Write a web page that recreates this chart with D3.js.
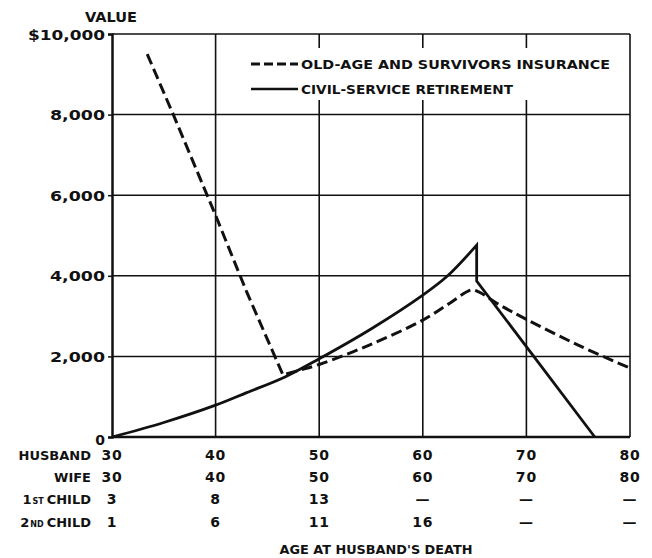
<!DOCTYPE html>
<html>
<head>
<meta charset="utf-8">
<script src="https://cdn.jsdelivr.net/npm/d3@7/dist/d3.min.js"></script>
<style>
  html, body { margin: 0; padding: 0; background: #fff; }
  svg text { font-family: "DejaVu Sans", "Liberation Sans", sans-serif; font-weight: bold; fill: #111; }
</style>
</head>
<body>
<svg id="chart" width="652" height="558"></svg>
<script>
// ---- data ----
const yTicks = [0, 2000, 4000, 6000, 8000, 10000];
const xTicks = [30, 40, 50, 60, 70, 80];

// Old-age and survivors insurance (dashed)
const oasiAge = [33.4, 36, 40, 43, 46.5, 48, 50, 55, 60, 62.6, 64.7, 65.4, 67.4, 70, 75, 80];
const oasiVal = [9500, 7950, 5500, 3600, 1540, 1650, 1800, 2300, 2900, 3320, 3650, 3600, 3280, 2920, 2280, 1710];
const oasiBreak = 4; // sharp kink index

// Civil-service retirement (solid)
const csrAge = [30, 35, 40, 43, 46.7, 50, 55, 60, 62.4, 65.2, 65.2, 76.6];
const csrVal = [0, 360, 790, 1100, 1490, 1940, 2680, 3520, 4000, 4760, 3870, 0];
const csrBreak = 9; // peak index, then vertical drop and straight descent

const rowLabels = ["HUSBAND", "WIFE", "1", "2"];
const rowSup = ["", "", "ST", "ND"];
const husbandAges = ["30", "40", "50", "60", "70", "80"];
const wifeAges = ["30", "40", "50", "60", "70", "80"];
const child1Ages = ["3", "8", "13", "—", "—", "—"];
const child2Ages = ["1", "6", "11", "16", "—", "—"];
const rows = [husbandAges, wifeAges, child1Ages, child2Ages];

const legendLabels = ["OLD-AGE AND SURVIVORS INSURANCE", "CIVIL-SERVICE RETIREMENT"];

// ---- layout ----
const svg = d3.select("#chart");
const x = d3.scaleLinear().domain([30, 80]).range([112, 630]);
const y = d3.scaleLinear().domain([0, 10000]).range([437, 34]);

// grid
const g = svg.append("g");
g.selectAll("line.h").data(yTicks.filter(d => d > 0)).join("line")
  .attr("x1", x(30)).attr("x2", x(80))
  .attr("y1", d => y(d)).attr("y2", d => y(d))
  .attr("stroke", "#111").attr("stroke-width", 1.5);
g.selectAll("line.v").data(xTicks.filter(d => d > 30)).join("line")
  .attr("x1", d => x(d)).attr("x2", d => x(d))
  .attr("y1", y(0)).attr("y2", y(10000))
  .attr("stroke", "#111").attr("stroke-width", 1.6);

// legend background
svg.append("rect").attr("x", 244).attr("y", 48).attr("width", 372).attr("height", 52).attr("fill", "#fff");

// y axis
const yAxis = d3.axisLeft(y).tickValues(yTicks).tickSize(4).tickPadding(3)
  .tickFormat(d => d === 10000 ? "$10,000" : d === 0 ? "0" : d3.format(",")(d));
const ya = svg.append("g").attr("transform", `translate(${x(30)},0)`).call(yAxis);
ya.select(".domain").attr("stroke", "#111").attr("stroke-width", 2.5);
ya.selectAll(".tick line").attr("stroke", "#111").attr("stroke-width", 1.5);
ya.selectAll(".tick text").attr("font-size", 14).attr("fill", "#111")
  .attr("font-family", "DejaVu Sans").attr("font-weight", "bold")
  .attr("textLength", d => d === 10000 ? 77 : d === 0 ? null : 55)
  .attr("lengthAdjust", "spacingAndGlyphs")
  .attr("dy", d => d === 0 ? "0.55em" : "0.36em");

// bottom axis line
svg.append("line").attr("x1", x(30)).attr("x2", x(80)).attr("y1", y(0)).attr("y2", y(0))
  .attr("stroke", "#111").attr("stroke-width", 2.5);

svg.append("text").attr("x", 111).attr("y", 22).attr("text-anchor", "middle")
  .attr("font-size", 14).attr("textLength", 52).attr("lengthAdjust", "spacingAndGlyphs").text("VALUE");

// lines
const mk = (ages, vals) => ages.map((a, i) => [a, vals[i]]);
const oasi = mk(oasiAge, oasiVal);
const csr = mk(csrAge, csrVal);
const smooth = d3.line().x(d => x(d[0])).y(d => y(d[1])).curve(d3.curveCatmullRom.alpha(0.5));
const straight = d3.line().x(d => x(d[0])).y(d => y(d[1]));

svg.append("path").attr("d", straight(oasi.slice(0, oasiBreak + 1)) + smooth(oasi.slice(oasiBreak)).replace(/^M/, "L"))
  .attr("fill", "none").attr("stroke", "#111").attr("stroke-width", 3)
  .attr("stroke-dasharray", "11,5").attr("stroke-linejoin", "round");

svg.append("path").attr("d", smooth(csr.slice(0, csrBreak + 1)) + straight(csr.slice(csrBreak)).replace(/^M/, "L"))
  .attr("fill", "none").attr("stroke", "#111").attr("stroke-width", 2.8).attr("stroke-linejoin", "miter");

// legend
svg.append("line").attr("x1", 251).attr("x2", 298).attr("y1", 64).attr("y2", 64)
  .attr("stroke", "#111").attr("stroke-width", 3).attr("stroke-dasharray", "9,4");
svg.append("line").attr("x1", 251).attr("x2", 298).attr("y1", 89).attr("y2", 89)
  .attr("stroke", "#111").attr("stroke-width", 2.5);
svg.append("text").attr("x", 301).attr("y", 68.5).attr("font-size", 12.5)
  .attr("textLength", 309).attr("lengthAdjust", "spacingAndGlyphs").text(legendLabels[0]);
svg.append("text").attr("x", 301).attr("y", 93.5).attr("font-size", 12.5)
  .attr("textLength", 212).attr("lengthAdjust", "spacingAndGlyphs").text(legendLabels[1]);

// bottom table
const rowY = [455, 477, 499, 522];
rows.forEach((r, ri) => {
  svg.selectAll(null).data(r).join("text")
    .attr("x", (d, i) => x(xTicks[i])).attr("y", rowY[ri] + 5)
    .attr("text-anchor", "middle").attr("font-size", 14)
    .attr("letter-spacing", 0.8)
    .text(d => d);
  const t = svg.append("text").attr("x", 91).attr("y", rowY[ri] + 5)
    .attr("text-anchor", "end").attr("font-size", 13);
  if (ri < 2) {
    t.text(rowLabels[ri]);
  } else {
    t.append("tspan").text(rowLabels[ri]);
    t.append("tspan").attr("font-size", 8).attr("dx", 1).text(rowSup[ri]);
    t.append("tspan").attr("dx", 3).text("CHILD");
  }
});

svg.append("text").attr("x", 376).attr("y", 554).attr("text-anchor", "middle")
  .attr("font-size", 13).attr("textLength", 193).attr("lengthAdjust", "spacingAndGlyphs")
  .text("AGE AT HUSBAND'S DEATH");
</script>
</body>
</html>
